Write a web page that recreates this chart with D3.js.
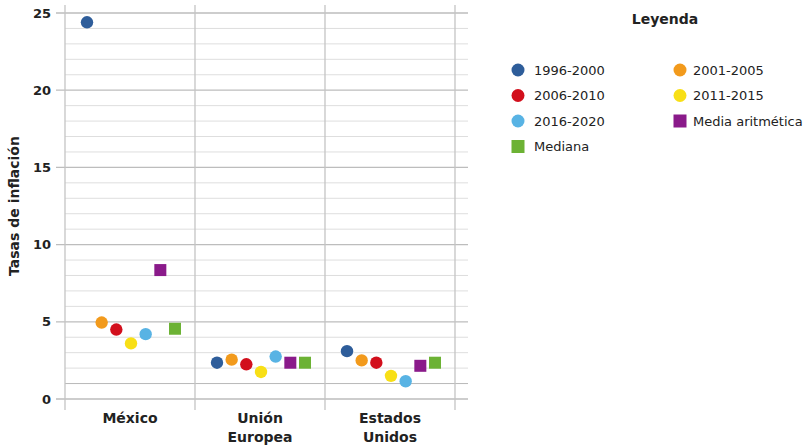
<!DOCTYPE html>
<html>
<head>
<meta charset="utf-8">
<script src="https://cdn.jsdelivr.net/npm/d3@7"></script>
<style>
  body { margin: 0; background: #fff; }
  text { font-family: "DejaVu Sans", sans-serif; fill: #222; }
</style>
</head>
<body>
<div id="chart"></div>
<script>
// data
var countries = ["México", "Unión Europea", "Estados Unidos"];
var countryLines = [["México"], ["Unión", "Europea"], ["Estados", "Unidos"]];
var series = ["1996-2000", "2001-2005", "2006-2010", "2011-2015", "2016-2020", "Media aritmética", "Mediana"];
var seriesColors = ["#2e5d9a", "#f29a1c", "#d20f1c", "#f8df16", "#58b3e4", "#8a1a8a", "#6cb234"];
var seriesShape = ["circle", "circle", "circle", "circle", "circle", "square", "square"];
var mexico = [24.4, 4.95, 4.5, 3.6, 4.2, 8.35, 4.55];
var unionEuropea = [2.35, 2.55, 2.25, 1.75, 2.75, 2.35, 2.35];
var estadosUnidos = [3.1, 2.5, 2.35, 1.5, 1.15, 2.15, 2.35];
var yTicks = [0, 5, 10, 15, 20, 25];

var values = [mexico, unionEuropea, estadosUnidos];

// set the dimensions and margins of the graph
var margin = { top: 13, right: 354, bottom: 48, left: 65 },
    width = 809 - margin.left - margin.right,
    height = 447 - margin.top - margin.bottom;

var svg = d3.select("#chart")
    .append("svg")
    .attr("width", 809)
    .attr("height", 447)
    .append("g")
    .attr("transform", "translate(" + margin.left + "," + margin.top + ")");

var x = d3.scaleBand().domain(countries).range([0, width]);
var xInner = d3.scalePoint().domain(series).range([22, x.bandwidth() - 20]);
var y = d3.scaleLinear().domain([0, 25]).range([height, 0]);

// minor grid lines every 1
var minor = d3.range(0, 26);
svg.selectAll(".minor")
    .data(minor.filter(function (d) { return d % 5 != 0; }))
    .enter()
    .append("line")
    .attr("x1", 0)
    .attr("x2", width + 13)
    .attr("y1", function (d) { return y(d); })
    .attr("y2", function (d) { return y(d); })
    .style("stroke", function (d) { return d == 1 ? "#b8b8b8" : "#dedede"; })
    .style("stroke-width", 1);

// major grid lines
svg.selectAll(".major")
    .data(yTicks)
    .enter()
    .append("line")
    .attr("x1", -9)
    .attr("x2", width + 13)
    .attr("y1", function (d) { return y(d); })
    .attr("y2", function (d) { return y(d); })
    .style("stroke", "#bdbdbd")
    .style("stroke-width", 1.3);

// vertical separators
var seps = countries.map(function (c) { return x(c); }).concat([width]);
svg.selectAll(".sep")
    .data(seps)
    .enter()
    .append("line")
    .attr("x1", function (d) { return d; })
    .attr("x2", function (d) { return d; })
    .attr("y1", -8)
    .attr("y2", height + 11)
    .style("stroke", "#c4c4c4")
    .style("stroke-width", 1.3);

// y tick labels
svg.selectAll(".ytick")
    .data(yTicks)
    .enter()
    .append("text")
    .attr("x", -14)
    .attr("y", function (d) { return y(d); })
    .attr("dy", "0.35em")
    .attr("text-anchor", "end")
    .attr("font-size", "13px")
    .attr("font-weight", "bold")
    .text(function (d) { return d; });

// y axis title
svg.append("text")
    .attr("transform", "translate(" + (-46) + "," + y(12.5) + ") rotate(-90)")
    .attr("text-anchor", "middle")
    .attr("font-size", "14px")
    .attr("font-weight", "bold")
    .text("Tasas de inflación");

// x labels
var xl = svg.selectAll(".xlab")
    .data(countries)
    .enter()
    .append("text")
    .attr("text-anchor", "middle")
    .attr("font-size", "14px")
    .attr("font-weight", "bold")
    .attr("transform", function (d) { return "translate(" + (x(d) + x.bandwidth() / 2) + "," + (height + 24) + ")"; });
xl.selectAll("tspan")
    .data(function (d, i) { return countryLines[i]; })
    .enter()
    .append("tspan")
    .attr("x", 0)
    .attr("dy", function (d, i) { return i == 0 ? 0 : 19; })
    .text(function (d) { return d; });

// points
var pts = [];
countries.forEach(function (c, ci) {
    series.forEach(function (s, si) {
        pts.push({ country: c, s: s, si: si, v: values[ci][si] });
    });
});

svg.selectAll(".dot")
    .data(pts.filter(function (d) { return seriesShape[d.si] == "circle"; }))
    .enter()
    .append("circle")
    .attr("cx", function (d) { return x(d.country) + xInner(d.s); })
    .attr("cy", function (d) { return y(d.v); })
    .attr("r", 6.2)
    .style("fill", function (d) { return seriesColors[d.si]; });

var sq = 12;
svg.selectAll(".sq")
    .data(pts.filter(function (d) { return seriesShape[d.si] == "square"; }))
    .enter()
    .append("rect")
    .attr("x", function (d) { return x(d.country) + xInner(d.s) - sq / 2; })
    .attr("y", function (d) { return y(d.v) - sq / 2; })
    .attr("width", sq)
    .attr("height", sq)
    .style("fill", function (d) { return seriesColors[d.si]; });

// legend
var legend = d3.select("svg").append("g");
legend.append("text")
    .attr("x", 665)
    .attr("y", 24)
    .attr("text-anchor", "middle")
    .attr("font-size", "14px")
    .attr("font-weight", "bold")
    .text("Leyenda");

var item = legend.selectAll(".item")
    .data(series)
    .enter()
    .append("g")
    .attr("transform", function (d, i) {
        var col = i % 2, row = Math.floor(i / 2);
        return "translate(" + (col == 0 ? 518 : 680) + "," + (70 + row * 25.5) + ")";
    });

item.each(function (d, i) {
    var g = d3.select(this);
    if (seriesShape[i] == "circle") {
        g.append("circle").attr("r", 6.5).style("fill", seriesColors[i]);
    } else {
        g.append("rect").attr("x", -6.5).attr("y", -6.5).attr("width", 13).attr("height", 13).style("fill", seriesColors[i]);
    }
    g.append("text")
        .attr("x", i % 2 == 0 ? 16 : 13)
        .attr("dy", "0.35em")
        .attr("font-size", "13px")
        .text(d);
});
</script>
</body>
</html>
